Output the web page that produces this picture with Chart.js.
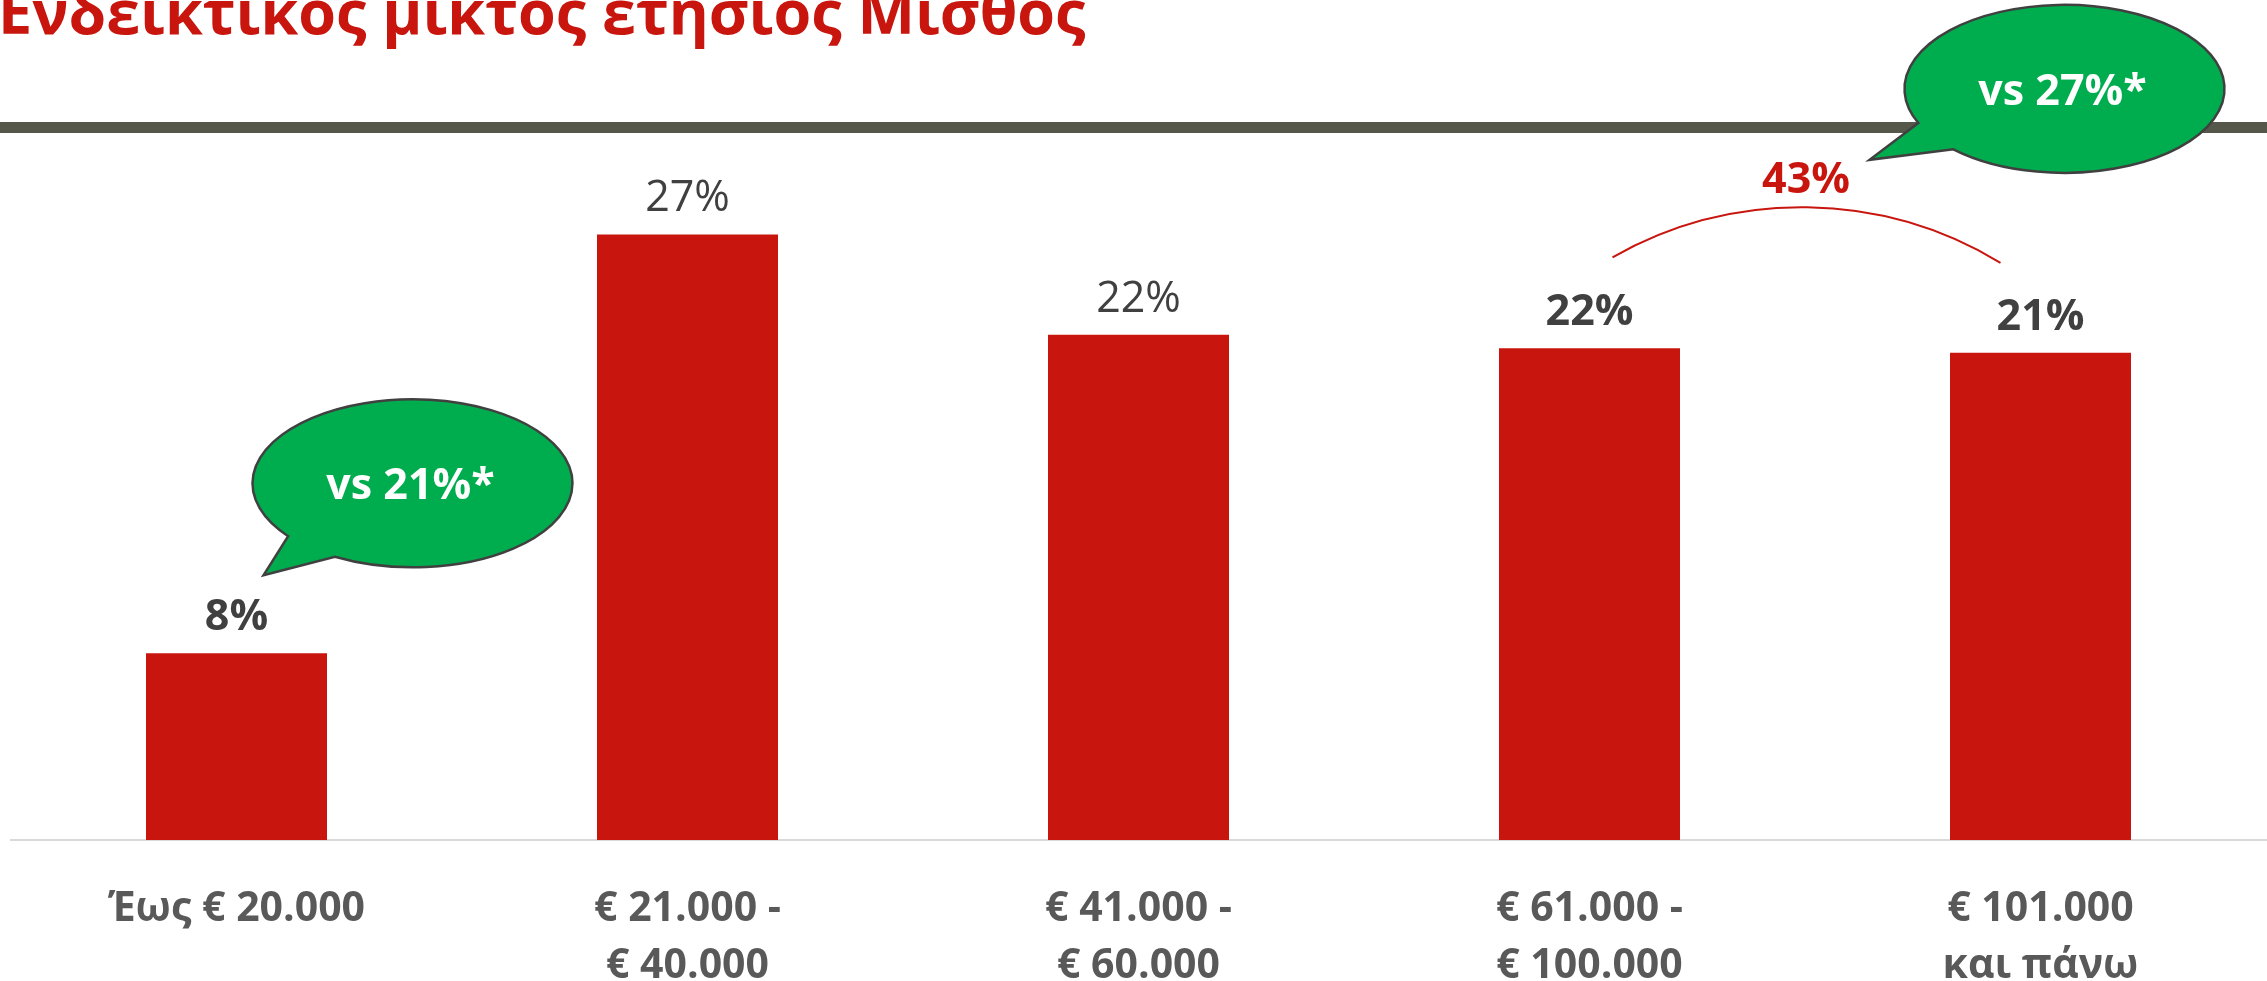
<!DOCTYPE html>
<html><head><meta charset="utf-8">
<script src="https://cdn.jsdelivr.net/npm/chart.js@4/dist/chart.umd.min.js"></script>
<style>html,body{margin:0;padding:0;background:#fff;overflow:hidden}#wrap{width:2267px;height:981px;position:relative}canvas{display:block}</style>
</head><body><div id="wrap"><canvas id="c" width="2267" height="981"></canvas></div>
<script>
const chartTitle = 'Ενδεικτικός μικτός ετήσιος Μισθός';
const categories = [['Έως € 20.000'], ['€ 21.000 -', '€ 40.000'], ['€ 41.000 -', '€ 60.000'], ['€ 61.000 -', '€ 100.000'], ['€ 101.000', 'και πάνω']];
const shares = [8.2, 26.6, 22.2, 21.6, 21.4];
const boldLabels = [true, false, false, true, true];
const bubbleTexts = ['vs 21%*', 'vs 27%*'];
const combinedLabel = Math.round(shares[3] + shares[4]) + '%';

const RED = '#C8160E';
const FONT = '"Open Sans", "Noto Sans", sans-serif';

function bubble(ctx, cx, cy, rx, ry, a1, a2, tip, text) {
  ctx.beginPath();
  ctx.ellipse(cx, cy, rx, ry, 0, a1 * Math.PI / 180, a2 * Math.PI / 180, false);
  ctx.lineTo(tip[0], tip[1]);
  ctx.closePath();
  ctx.fillStyle = '#00AD4E';
  ctx.fill();
  ctx.lineWidth = 2.5;
  ctx.strokeStyle = '#404040';
  ctx.stroke();
  ctx.fillStyle = '#FFFFFF';
  ctx.font = '700 43px ' + FONT;
  ctx.textAlign = 'center';
  ctx.textBaseline = 'alphabetic';
  ctx.fillText(text, cx - 2, cy + 16);
}

function circleThrough(p1, p2, p3) {
  const ax = p1[0], ay = p1[1], bx = p2[0], by = p2[1], cx = p3[0], cy = p3[1];
  const d = 2 * (ax * (by - cy) + bx * (cy - ay) + cx * (ay - by));
  const ux = ((ax * ax + ay * ay) * (by - cy) + (bx * bx + by * by) * (cy - ay) + (cx * cx + cy * cy) * (ay - by)) / d;
  const uy = ((ax * ax + ay * ay) * (cx - bx) + (bx * bx + by * by) * (ax - cx) + (cx * cx + cy * cy) * (bx - ax)) / d;
  return [ux, uy, Math.hypot(ax - ux, ay - uy)];
}

const decor = {
  id: 'decor',
  beforeDraw(chart) {
    const ctx = chart.ctx;
    ctx.save();
    ctx.fillStyle = '#fff';
    ctx.fillRect(0, 0, chart.width, chart.height);
    ctx.restore();
  },
  afterDatasetsDraw(chart) {
    const ctx = chart.ctx;
    const bars = chart.getDatasetMeta(0).data;
    ctx.save();
    // title
    ctx.fillStyle = RED;
    ctx.font = '700 61px ' + FONT;
    ctx.textAlign = 'left';
    ctx.textBaseline = 'alphabetic';
    ctx.fillText(chartTitle, -2, 34);
    // header band
    ctx.fillStyle = '#56574B';
    ctx.fillRect(0, 122, chart.width, 11);
    // value labels
    bars.forEach((bar, i) => {
      ctx.font = (boldLabels[i] ? '700 ' : '400 ') + '43px ' + FONT;
      ctx.fillStyle = '#404040';
      ctx.textAlign = 'center';
      ctx.fillText(Math.round(shares[i]) + '%', bar.x, bar.y - 23);
    });
    // arc over last two bars
    const b4 = bars[3], b5 = bars[4];
    const p0 = [b4.x + 23, b4.y - 91];
    const p2 = [b5.x - 40, b5.y - 90];
    const pm = [(b4.x + b5.x) / 2 - 15, Math.min(b4.y, b5.y) - 141];
    const c = circleThrough(p0, pm, p2);
    ctx.beginPath();
    ctx.arc(c[0], c[1], c[2], Math.atan2(p0[1] - c[1], p0[0] - c[0]), Math.atan2(p2[1] - c[1], p2[0] - c[0]), false);
    ctx.strokeStyle = RED;
    ctx.lineWidth = 2;
    ctx.stroke();
    ctx.font = '700 43px ' + FONT;
    ctx.fillStyle = RED;
    ctx.textAlign = 'center';
    ctx.fillText(combinedLabel, (b4.x + b5.x) / 2 - 9, Math.min(b4.y, b5.y) - 155);
    // speech bubbles
    const b1 = bars[0];
    bubble(ctx, b1.x + 176, b1.y - 170, 160, 84, 141, 119, [b1.x + 27, b1.y - 78], bubbleTexts[0]);
    bubble(ctx, b5.x + 24, b5.y - 264, 160, 84, 156, 134, [b5.x - 171, b5.y - 193], bubbleTexts[1]);
    ctx.restore();
  }
};

new Chart(document.getElementById('c'), {
  type: 'bar',
  data: {
    labels: categories,
    datasets: [{
      data: shares,
      backgroundColor: RED,
      borderWidth: 0,
      barPercentage: 1,
      categoryPercentage: 181 / 451
    }]
  },
  options: {
    responsive: false,
    animation: false,
    devicePixelRatio: 1,
    layout: { padding: { left: 11, right: 1, top: 140, bottom: 0 } },
    plugins: { legend: { display: false }, title: { display: false }, tooltip: { enabled: false } },
    scales: {
      y: { display: false, min: 0, max: 30.75 },
      x: {
        grid: { display: false, drawTicks: false },
        border: { display: true, color: '#D9D9D9', width: 2 },
        ticks: {
          color: '#595959',
          autoSkip: false,
          maxRotation: 0,
          padding: 40,
          font: { family: 'Open Sans', size: 41, weight: '700', lineHeight: 1.41 }
        },
        afterFit(scale) { scale.height = 141; }
      }
    }
  },
  plugins: [decor]
});
</script>
</body></html>
